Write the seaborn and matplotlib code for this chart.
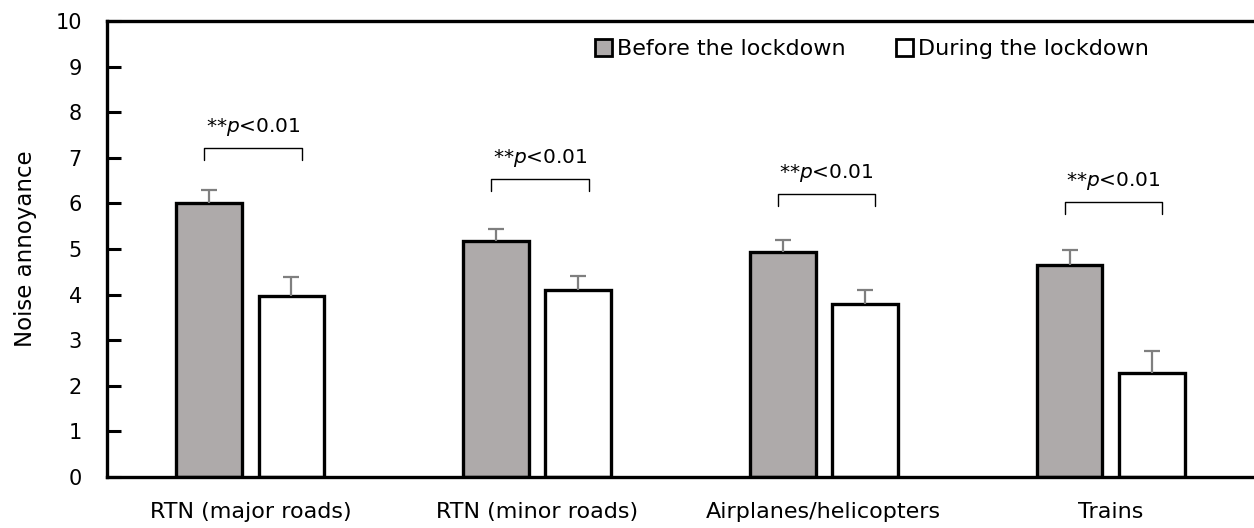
import numpy as np
import pandas as pd
import matplotlib
matplotlib.use("Agg")
import matplotlib.pyplot as plt
import seaborn as sns

# Noise annoyance by source, before vs during the lockdown
sources = ["RTN (major roads)", "RTN (minor roads)", "Airplanes/helicopters", "Trains"]
periods = ["Before the lockdown", "During the lockdown"]
before_mean = [6.00, 5.17, 4.93, 4.65]
during_mean = [3.97, 4.10, 3.79, 2.28]
before_err = [0.29, 0.27, 0.27, 0.33]
during_err = [0.42, 0.31, 0.31, 0.48]
sig_label = "**$\\mathit{p}$<0.01"
bracket_y = [7.21, 6.53, 6.20, 6.03]
y_ticks = list(range(0, 11))

df = pd.DataFrame({
    "source": sources * 2,
    "period": [periods[0]] * 4 + [periods[1]] * 4,
    "value": before_mean + during_mean,
    "err": before_err + during_err,
})

sns.set_theme(style="white")
plt.rcParams["font.family"] = ["DejaVu Sans"]
plt.rcParams["mathtext.fontset"] = "dejavusans"
plt.rcParams["text.color"] = "black"
plt.rcParams["axes.labelcolor"] = "black"
plt.rcParams["xtick.color"] = "black"
plt.rcParams["ytick.color"] = "black"

fig = plt.figure(figsize=(12.54, 5.28), dpi=100)
ax = fig.add_axes([107 / 1254, 51 / 528, 1147 / 1254, 456 / 528])

palette = {periods[0]: "#AEAAAA", periods[1]: "#FFFFFF"}
sns.barplot(data=df, x="source", y="value", hue="period", order=sources,
            hue_order=periods, palette=palette, errorbar=None,
            width=0.573, gap=0.2, edgecolor="black", linewidth=2.4,
            saturation=1, ax=ax, legend=True)

# upward-only error bars placed on each bar top
for container, errs in zip(ax.containers, [before_err, during_err]):
    xs = [p.get_x() + p.get_width() / 2 for p in container.patches]
    hs = [p.get_height() for p in container.patches]
    _, caps, _ = ax.errorbar(xs, hs, yerr=[np.zeros(len(errs)), errs],
                             fmt="none", ecolor="#7F7F7F", elinewidth=1.6,
                             capsize=6, capthick=1.6, zorder=1)
    caps[0].set_visible(False)

# significance brackets between the two bars of each group
half = 0.17
leg = 0.26
for i, yb in enumerate(bracket_y):
    xc = i + 0.01
    ax.plot([xc - half, xc - half, xc + half, xc + half],
            [yb - leg, yb, yb, yb - leg], color="black", lw=1.0)
    ax.text(xc, yb + 0.22, sig_label, ha="center", va="bottom",
            fontsize=14.5, color="black")

ax.set_ylim(0, 10)
ax.set_xlim(-0.5, 3.5)
ax.set_yticks(y_ticks)
ax.set_ylabel("Noise annoyance", fontsize=16.5, labelpad=13)
ax.set_xlabel("")
ax.tick_params(axis="y", direction="in", length=10, width=2.2,
               labelsize=15, pad=18, left=True)
ax.tick_params(axis="x", length=0, labelsize=16, pad=18)

for side in ["left", "bottom", "top"]:
    ax.spines[side].set_visible(True)
    ax.spines[side].set_linewidth(2.4)
    ax.spines[side].set_color("black")
ax.spines["right"].set_visible(False)

handles, labels = ax.get_legend_handles_labels()
for h in handles:
    h.set_linewidth(2.0)
ax.legend(handles, labels, loc="upper left",
          bbox_to_anchor=(0.4255, 0.96), ncol=2, frameon=False,
          fontsize=16, handlelength=0.75, handleheight=0.75,
          handletextpad=0.22, columnspacing=2.3,
          borderpad=0, borderaxespad=0)

fig.savefig("out.png", dpi=100)
